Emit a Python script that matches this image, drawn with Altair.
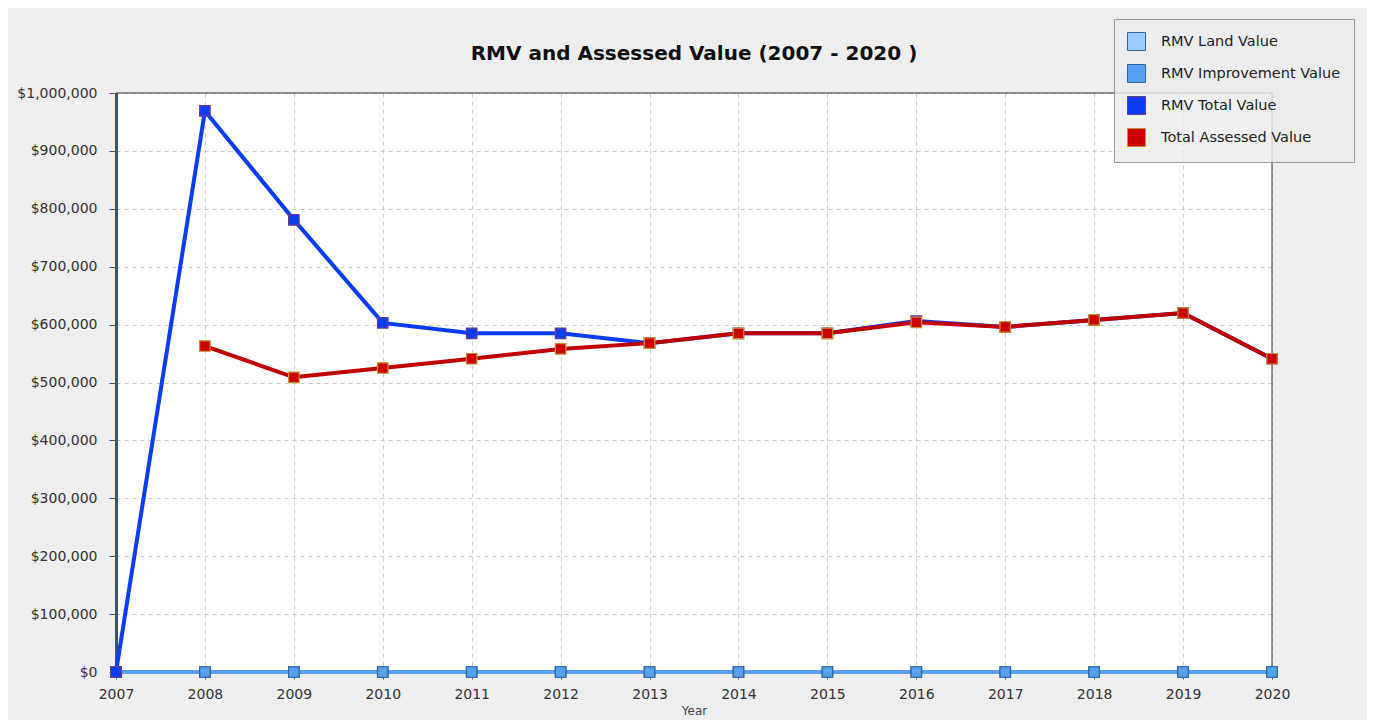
import altair as alt
import pandas as pd

years = list(range(2007, 2021))
series_names = ["RMV Land Value", "RMV Improvement Value", "RMV Total Value", "Total Assessed Value"]
land = [0] * 14
improvement = [0] * 14
rmv_total = [0, 969000, 781000, 603000, 585000, 585000, 568000, 585000, 585000, 606000, 596000, 608000, 620000, 541000]
assessed = [None, 563000, 509000, 525000, 541000, 558000, 568000, 585000, 585000, 604000, 596000, 608000, 620000, 541000]

fill_colors = ["#99ccff", "#55a0f0", "#0a3cf5", "#cc0000"]
line_colors = ["#99ccff", "#5aa0ee", "#0a3cf5", "#c00000"]
outline_colors = ["#336699", "#336699", "#6a3a8a", "#c8902a"]

x_min, x_max = years[0], years[-1]
y_max = 1000000

rows = []
for name, vals in zip(series_names, [land, improvement, rmv_total, assessed]):
    for y, v in zip(years, vals):
        if v is not None:
            rows.append({"Year": y, "Series": name, "Value": v})
df = pd.DataFrame(rows)

font = "DejaVu Sans"

x_scale = alt.Scale(domain=[x_min, x_max], nice=False, zero=False)
y_scale = alt.Scale(domain=[0, y_max], nice=False)

x_enc = alt.X("Year:Q", scale=x_scale,
              axis=alt.Axis(values=years, format="d", title="Year", titleFontSize=12,
                            titleFontWeight="normal", titlePadding=4, labelFontSize=14,
                            labelColor="#333333", labelPadding=8, tickSize=7, labelFlush=False,
                            tickColor="#555555", domain=False, grid=True,
                            gridDash=[4, 4], gridColor="#cccccc", titleColor="#444444"))
y_enc = alt.Y("Value:Q", scale=y_scale,
              axis=alt.Axis(values=list(range(0, y_max + 1, 100000)), format="$,.0f", title=None,
                            labelFontSize=14, labelColor="#333333", tickSize=7, labelFlush=False,
                            tickColor="#555555", domainColor="#3d5566", domainWidth=3,
                            grid=True, gridDash=[4, 4], gridColor="#cccccc", labelPadding=12))

lines = alt.Chart(df).mark_line(strokeWidth=4).encode(
    x=x_enc, y=y_enc,
    color=alt.Color("Series:N", scale=alt.Scale(domain=series_names, range=line_colors), legend=None),
    detail="Series:N",
)

points = alt.Chart(df).mark_point(shape="square", filled=True, size=110, strokeWidth=1.2, opacity=1).encode(
    x=x_enc, y=y_enc,
    fill=alt.Fill("Series:N", scale=alt.Scale(domain=series_names, range=fill_colors),
                  legend=alt.Legend(title=None, orient="none", legendX=998, legendY=-74,
                                    symbolType="square", symbolSize=324, symbolStrokeColor="#444444",
                                    symbolStrokeWidth=1, labelFontSize=14.5, labelColor="#222222",
                                    rowPadding=9, padding=13, fillColor="rgba(236,236,236,0.82)",
                                    strokeColor="#999999", labelOffset=15, labelLimit=300)),
    stroke=alt.Stroke("Series:N", scale=alt.Scale(domain=series_names, range=outline_colors), legend=None),
)

# plot frame (top and right borders) drawn over the gridlines
top_border = alt.Chart().mark_rule(color="#333333", strokeWidth=1).encode(
    x=alt.datum(x_min, scale=x_scale), x2=alt.datum(x_max), y=alt.datum(y_max, scale=y_scale)
)
right_border = alt.Chart().mark_rule(color="#333333", strokeWidth=1).encode(
    x=alt.datum(x_max, scale=x_scale), y=alt.datum(0, scale=y_scale), y2=alt.datum(y_max)
)

chart = alt.layer(top_border, right_border, lines, points).resolve_scale(
    color="independent", fill="independent", stroke="independent"
).properties(
    width=1156, height=579,
    title=alt.TitleParams("RMV and Assessed Value (2007 - 2020 )", fontSize=20, font=font,
                          fontWeight="bold", color="#111111", anchor="middle", offset=-61,
                          baseline="alphabetic"),
    autosize=alt.AutoSizeParams(type="none"),
    padding={"left": 108, "top": 85, "right": 95, "bottom": 48},
    background="#eeeeee",
    view=alt.ViewBackground(fill="#ffffff", stroke=None),
).configure(font=font)

chart.save("out.html", embed_options={"renderer": "svg", "actions": False})
